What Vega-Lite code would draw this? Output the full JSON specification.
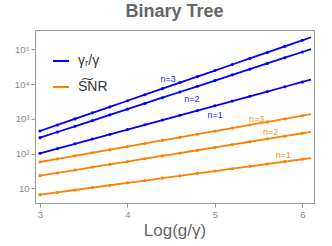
{
  "$schema": "https://vega.github.io/schema/vega-lite/v6.json",
  "width": 279,
  "height": 173,
  "autosize": {"type": "none"},
  "padding": {"left": 35, "top": 30, "right": 18, "bottom": 43},
  "config": {
    "font": "Liberation Sans",
    "view": {"stroke": "#999999", "strokeWidth": 1},
    "axis": {"domainColor": "#999999", "tickColor": "#999999", "labelColor": "#888888", "labelFont": "Liberation Sans", "labelFontSize": 9.5, "grid": false, "tickSize": 4, "labelPadding": 2}
  },
  "title": {"text": "Binary Tree", "fontSize": 18, "fontWeight": "bold", "color": "#666666", "font": "Liberation Sans", "anchor": "middle", "offset": 9},
  "data": {"values": [
    {"x": 3.0, "b3": 446, "b2": 286, "b1": 102, "o3": 57.2, "o2": 23.1, "o1": 6.55},
    {"x": 3.2, "b3": 665, "b2": 417, "b1": 139, "o3": 70.1, "o2": 27.8, "o1": 7.66},
    {"x": 3.4, "b3": 993, "b2": 609, "b1": 191, "o3": 86.0, "o2": 33.6, "o1": 8.95},
    {"x": 3.6, "b3": 1483, "b2": 890, "b1": 262, "o3": 105.5, "o2": 40.5, "o1": 10.47},
    {"x": 3.8, "b3": 2213, "b2": 1299, "b1": 358, "o3": 129.5, "o2": 48.8, "o1": 12.25},
    {"x": 4.0, "b3": 3304, "b2": 1897, "b1": 491, "o3": 158.9, "o2": 58.9, "o1": 14.32},
    {"x": 4.2, "b3": 4932, "b2": 2769, "b1": 673, "o3": 194.9, "o2": 71.0, "o1": 16.75},
    {"x": 4.4, "b3": 7362, "b2": 4045, "b1": 922, "o3": 239.1, "o2": 85.7, "o1": 19.59},
    {"x": 4.6, "b3": 10990, "b2": 5905, "b1": 1263, "o3": 293.4, "o2": 103.3, "o1": 22.91},
    {"x": 4.8, "b3": 16410, "b2": 8623, "b1": 1730, "o3": 360.0, "o2": 124.6, "o1": 26.79},
    {"x": 5.0, "b3": 24490, "b2": 12590, "b1": 2371, "o3": 441.6, "o2": 150.3, "o1": 31.33},
    {"x": 5.2, "b3": 36560, "b2": 18380, "b1": 3249, "o3": 541.8, "o2": 181.3, "o1": 36.64},
    {"x": 5.4, "b3": 54580, "b2": 26840, "b1": 4452, "o3": 664.7, "o2": 218.7, "o1": 42.85},
    {"x": 5.6, "b3": 81470, "b2": 39200, "b1": 6101, "o3": 815.3, "o2": 263.8, "o1": 50.12},
    {"x": 5.8, "b3": 121600, "b2": 57230, "b1": 8360, "o3": 1000.5, "o2": 318.1, "o1": 58.61},
    {"x": 6.0, "b3": 181600, "b2": 83560, "b1": 11460, "o3": 1227, "o2": 383.7, "o1": 68.55},
    {"x": 6.1, "b3": 221800, "b2": 100970, "b1": 13410, "o3": 1359, "o2": 421.4, "o1": 74.13}
  ]},
  "encoding": {
    "x": {"field": "x", "type": "quantitative", "scale": {"domain": [2.943, 6.134], "nice": false, "zero": false},
      "axis": {"values": [3, 4, 5, 6], "title": "Log(g/γ)", "titleFontSize": 17, "titleFontWeight": "normal", "titleColor": "#666666", "titleFont": "Liberation Sans", "titlePadding": 4}},
    "y": {"field": "v", "type": "quantitative", "scale": {"type": "log", "domain": [3.78, 359000], "nice": false},
      "axis": {"values": [10, 100, 1000, 10000, 100000], "title": null,
        "labelExpr": "datum.value == 10 ? '10' : datum.value == 100 ? '10²' : datum.value == 1000 ? '10³' : datum.value == 10000 ? '10⁴' : '10⁵'"}}
  },
  "layer": [
    {
      "transform": [{"fold": ["b1", "b2", "b3"], "as": ["key", "v"]}],
      "mark": {"type": "line", "strokeWidth": 1.8},
      "encoding": {
        "detail": {"field": "key"},
        "color": {"datum": "γᵣ/γ", "type": "nominal",
          "scale": {"domain": ["γᵣ/γ", "S͠NR"], "range": ["#0000ff", "#ff8000"]},
          "legend": {"orient": "none", "legendX": 17, "legendY": 22, "title": null, "symbolType": "stroke", "symbolSize": 256, "symbolStrokeWidth": 2, "labelFontSize": 14, "labelColor": "#333333", "labelFont": "Liberation Sans", "rowPadding": 10, "padding": 0, "labelOffset": 8}}
      }
    },
    {
      "transform": [{"fold": ["b1", "b2", "b3"], "as": ["key", "v"]}, {"filter": "datum.x <= 6.001"}],
      "mark": {"type": "point", "filled": true, "size": 10, "opacity": 1},
      "encoding": {"detail": {"field": "key"}, "color": {"datum": "γᵣ/γ", "type": "nominal"}}
    },
    {
      "transform": [{"fold": ["o1", "o2", "o3"], "as": ["key", "v"]}],
      "mark": {"type": "line", "strokeWidth": 1.8},
      "encoding": {"detail": {"field": "key"}, "color": {"datum": "S͠NR", "type": "nominal"}}
    },
    {
      "transform": [{"fold": ["o1", "o2", "o3"], "as": ["key", "v"]}, {"filter": "datum.x <= 6.001"}],
      "mark": {"type": "point", "filled": true, "size": 10, "opacity": 1},
      "encoding": {"detail": {"field": "key"}, "color": {"datum": "S͠NR", "type": "nominal"}}
    },
    {
      "data": {"values": [
        {"x": 4.466, "v": 13960, "label": "n=3"},
        {"x": 4.737, "v": 3640, "label": "n=2"},
        {"x": 5.003, "v": 1285, "label": "n=1"}
      ]},
      "mark": {"type": "text", "color": "#2020ff", "fontSize": 9, "font": "Liberation Sans"},
      "encoding": {"text": {"field": "label"}}
    },
    {
      "data": {"values": [
        {"x": 5.479, "v": 1007, "label": "n=3"},
        {"x": 5.639, "v": 409, "label": "n=2"},
        {"x": 5.783, "v": 89, "label": "n=1"}
      ]},
      "mark": {"type": "text", "color": "#ff8c20", "fontSize": 9, "font": "Liberation Sans"},
      "encoding": {"text": {"field": "label"}}
    }
  ]
}
